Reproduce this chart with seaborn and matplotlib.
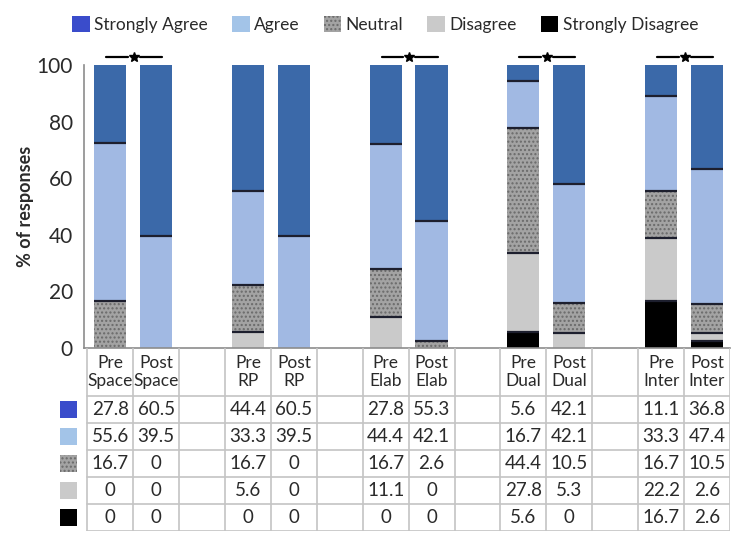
import numpy as np
import pandas as pd
import matplotlib
matplotlib.use('Agg')
import matplotlib.pyplot as plt
from matplotlib.patches import Patch, Rectangle
import seaborn as sns

# ==========================================
# DATA
# ==========================================
groups = ['Space', 'RP', 'Elab', 'Dual', 'Inter']
significant = [True, False, True, True, True]
col_labels = ['Pre\nSpace', 'Post\nSpace', 'Pre\nRP', 'Post\nRP', 'Pre\nElab', 'Post\nElab',
              'Pre\nDual', 'Post\nDual', 'Pre\nInter', 'Post\nInter']
strongly_agree    = [27.8, 60.5, 44.4, 60.5, 27.8, 55.3, 5.6, 42.1, 11.1, 36.8]
agree             = [55.6, 39.5, 33.3, 39.5, 44.4, 42.1, 16.7, 42.1, 33.3, 47.4]
neutral           = [16.7, 0, 16.7, 0, 16.7, 2.6, 44.4, 10.5, 16.7, 10.5]
disagree          = [0, 0, 5.6, 0, 11.1, 0, 27.8, 5.3, 22.2, 2.6]
strongly_disagree = [0, 0, 0, 0, 0, 0, 5.6, 0, 16.7, 2.6]
level_names = ['Strongly Agree', 'Agree', 'Neutral', 'Disagree', 'Strongly Disagree']

# ==========================================
# STYLE
# ==========================================
sns.set_style('white')
plt.rcParams['font.family'] = ['Lato', 'DejaVu Sans']
plt.rcParams['hatch.linewidth'] = 1.0

bar_colours    = ['#3b69a9', '#a1b9e3', '#a3a3a3', '#cacaca', '#000000']
legend_colours = ['#3a4ccb', '#a3c4e8', '#a3a3a3', '#cacaca', '#000000']
hatches        = [None, None, '....', None, None]
edge_line      = '#1d1f2e'
grid_col       = '#c4c4c4'
text_col       = '#2a2a2a'

# positions: pairs with an empty slot between groups
positions = []
for g in range(len(groups)):
    positions += [3 * g, 3 * g + 1]

df = pd.DataFrame({'pos': positions, 'SA': strongly_agree, 'A': agree,
                   'N': neutral, 'D': disagree, 'SD': strongly_disagree})
# cumulative heights from the bottom (SD) up to the total
df['c_SD'] = df['SD']
df['c_D'] = df['c_SD'] + df['D']
df['c_N'] = df['c_D'] + df['N']
df['c_A'] = df['c_N'] + df['A']
df['c_SA'] = df['c_A'] + df['SA']
cum_cols = ['c_SA', 'c_A', 'c_N', 'c_D', 'c_SD']

fig = plt.figure(figsize=(7.48, 5.45), dpi=100)
left, width = 84 / 748, (730 - 84) / 748
ax = fig.add_axes([left, 1 - 348 / 545, width, (348 - 65) / 545])
tab = fig.add_axes([left, 1 - 531 / 545, width, (531 - 348) / 545])
xlim = (-0.57, 13.5)

bar_w = 0.7
for col, c, h in zip(cum_cols, bar_colours, hatches):
    kw = dict(hatch=h, edgecolor='#6a6a6a') if h else dict(edgecolor='none')
    sns.barplot(data=df, x='pos', y=col, native_scale=True, orient='x', width=bar_w,
                color=c, saturation=1, errorbar=None, linewidth=0, ax=ax, **kw)

# dark separator line on top of each segment (except the very top)
for col in cum_cols[1:]:
    for p, v in zip(df['pos'], df[col]):
        if v > 0:
            ax.hlines(v, p - bar_w / 2, p + bar_w / 2, color=edge_line, lw=1.6, zorder=5)

# significance markers
for g, sig in enumerate(significant):
    if not sig:
        continue
    pre, post = 3 * g, 3 * g + 1
    y = 102.8
    ax.plot([pre - 0.09, pre + 0.38], [y, y], color='k', lw=1.6, clip_on=False)
    ax.plot([pre + 0.64, post + 0.13], [y, y], color='k', lw=1.6, clip_on=False)
    ax.plot(pre + 0.51, y, marker='*', color='k', ms=7, clip_on=False)

ax.set_xlim(*xlim)
ax.set_ylim(0, 100)
ax.set_yticks(range(0, 101, 20))
ax.set_yticklabels([str(v) for v in range(0, 101, 20)], fontsize=15, color=text_col)
ax.set_xticks([])
ax.set_xlabel('')
ax.set_ylabel('% of responses', fontsize=13, fontweight='bold', color=text_col, labelpad=2)
ax.tick_params(axis='y', length=5, width=1, color='#888888', direction='out', pad=3)
for s in ['top', 'right']:
    ax.spines[s].set_visible(False)
for s in ['left', 'bottom']:
    ax.spines[s].set_color('#8c8c8c')
    ax.spines[s].set_linewidth(1.2)

# ==========================================
# DATA TABLE
# ==========================================
header_h = 48 / 27
n_rows = 5
tab.set_xlim(*xlim)
tab.set_ylim(header_h + n_rows, 0)
tab.axis('off')

edges = np.arange(-0.5, 14.0, 1.0)
for e in edges:
    tab.plot([e, e], [0, header_h + n_rows], color=grid_col, lw=1.2)
for r in range(n_rows + 1):
    yy = header_h + r
    tab.plot([-0.5, 13.5], [yy, yy], color=grid_col, lw=1.2)

for p, lab in zip(positions, col_labels):
    tab.text(p, header_h / 2, lab, ha='center', va='center', fontsize=12.5,
             color=text_col, linespacing=1.15)

rows = [strongly_agree, agree, neutral, disagree, strongly_disagree]
for r, vals in enumerate(rows):
    yc = header_h + r + 0.5
    for p, v in zip(positions, vals):
        tab.text(p, yc, f'{v:g}', ha='center', va='center', fontsize=13.5, color=text_col)
    kw = dict(hatch='....', edgecolor='#6a6a6a', lw=0) if hatches[r] else dict(edgecolor='none')
    tab.add_patch(Rectangle((-1.09, yc - 0.32), 0.37, 0.64, facecolor=legend_colours[r],
                            clip_on=False, **kw))

# ==========================================
# LEGEND
# ==========================================
handles = []
for name, c, h in zip(level_names, legend_colours, hatches):
    if h:
        handles.append(Patch(facecolor=c, hatch=h, edgecolor='#6a6a6a', lw=0, label=name))
    else:
        handles.append(Patch(facecolor=c, edgecolor='none', label=name))
fig.legend(handles=handles, loc='center', bbox_to_anchor=(0.515, 0.955), ncol=5,
           frameon=False, fontsize=12.5, handlelength=1.0, handleheight=1.0,
           handletextpad=0.25, columnspacing=1.4, labelcolor=text_col)

plt.savefig('out.png', dpi=100)
plt.close()
